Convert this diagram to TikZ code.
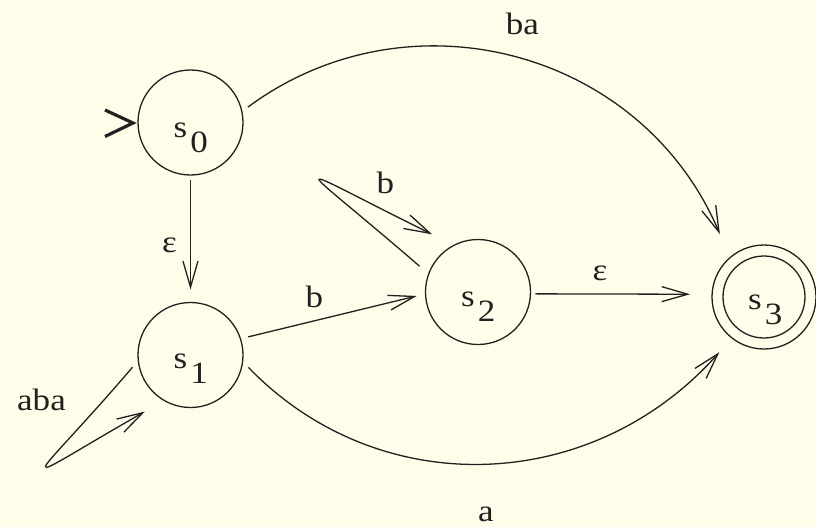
\documentclass[tikz,border=0pt]{standalone}
\usepackage{fontspec}
\setmainfont{Liberation Serif}[FakeStretch=1.13]
\usetikzlibrary{arrows.meta}
\definecolor{bg}{RGB}{255,253,233}
\definecolor{ink}{RGB}{35,31,32}
\begin{document}
\begin{tikzpicture}[x=1pt,y=-1pt,
  state/.style={circle,draw=ink,line width=1.3pt,minimum size=105pt,inner sep=0pt,outer sep=0pt},
  lbl/.style={font=\fontsize{31}{36}\selectfont,text=ink,inner sep=0pt},
  arr/.style={draw=ink,line width=1.3pt,-{Straight Barb[length=26pt,width=15pt]}},
  initmark/.style={draw=ink,line width=3.2pt,line join=miter,line cap=butt}]
\fill[bg] (0,0) rectangle (816,527);
\useasboundingbox (0,0) rectangle (816,527);
% states
\node[state] (s0) at (190.5,122.5) {};
\node[state] (s1) at (190.5,355) {};
\node[state] (s2) at (478,292) {};
\node[state,minimum size=104pt] (s3) at (764,297) {};
\node[state,minimum size=82pt] (s3i) at (764,297) {};
% state names
\node[lbl,anchor=base west] (t0) at ([shift={(-17,14.5)}]s0.center) {s\hspace{3pt}\raisebox{-15pt}{0}};
\node[lbl,anchor=base west] (t1) at ([shift={(-17,13.5)}]s1.center) {s\hspace{3pt}\raisebox{-15pt}{1}};
\node[lbl,anchor=base west] (t2) at ([shift={(-17,14.5)}]s2.center) {s\hspace{3pt}\raisebox{-15pt}{2}};
\node[lbl,anchor=base west] (t3) at ([shift={(-16,12.5)}]s3.center) {s\hspace{3pt}\raisebox{-15pt}{3}};
% initial marker
\draw[initmark] ([shift={(-33,-12.5)}]s0.west) -- ([shift={(-5,0.5)}]s0.west) -- ([shift={(-33,14)}]s0.west);
% transitions
\draw[arr,shorten <=5pt,shorten >=13pt] (s0.south) -- (s1.north);
\draw[arr,shorten <=8pt,shorten >=9pt] (s1.18) -- (s2.182);
\draw[arr,shorten <=5pt,shorten >=22pt] (s2.-2) -- (s3.177);
\draw[arr,shorten <=7.6pt,shorten >=25.7pt] (s0.12) .. controls +(167,-123.6) and +(-88,-208) .. (s3.131);
\draw[arr,shorten <=8.3pt,shorten >=19pt] (s1.-7) .. controls +(136.9,141.7) and +(-139,156.5) .. (s3.232);
\draw[arr,shorten <=12pt,shorten >=24.6pt] (s2.160) .. controls +(-139,-120) and +(-176,-87) .. (s2.117);
\draw[arr,shorten <=8.8pt,shorten >=22.3pt] (s1.186) .. controls +(-111.8,130.6) and +(-161,92) .. (s1.240);
% labels
\node[lbl,anchor=base] (lba) at (522.5,35) {ba};
\node[lbl,anchor=base] (la) at (486,521) {a};
\node[lbl,anchor=base] (le1) at (169.5,252) {ε};
\node[lbl,anchor=base] (lb1) at (385.5,193) {b};
\node[lbl,anchor=base] (lb2) at (314.5,307) {b};
\node[lbl,anchor=base] (le2) at (600,280) {ε};
\node[lbl,anchor=base] (laba) at (41.5,410) {aba};
\end{tikzpicture}
\end{document}
